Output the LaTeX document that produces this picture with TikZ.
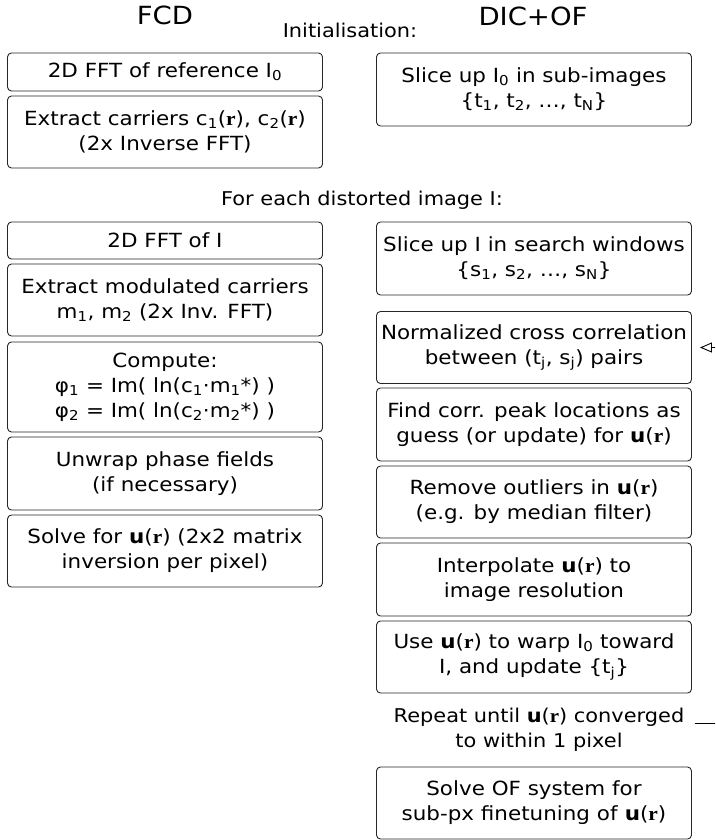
\documentclass[tikz,border=0pt]{standalone}
\usepackage{fontspec}
\setmainfont{DejaVu Sans}[FakeStretch=1.1]
\newfontfamily\rmbold{Liberation Serif}[FakeStretch=1.1]
\usetikzlibrary{arrows.meta}
% bold vector symbols
\newcommand{\vr}{\textbf{\rmbold r}}
\newcommand{\vu}{\textbf{u}}
\newcommand{\ur}{\vu(\vr)}
\newcommand{\sbs}[1]{\textsubscript{#1}}
\begin{document}
\begin{tikzpicture}[x=1pt,y=-1pt,
  stepbox/.style={draw=black!85, line width=0.9pt, rounded corners=4pt,
    minimum width=315pt, align=center, inner sep=0pt,
    font=\fontsize{19.5}{25}\selectfont},
  heading/.style={font=\fontsize{25}{30}\selectfont, inner sep=0pt, anchor=base},
  label/.style={font=\fontsize{19}{25}\selectfont, inner sep=0pt, anchor=base},
  loop/.style={line width=0.9pt, -{Triangle[open,length=12pt,width=10pt]}}]
\useasboundingbox (0,0) rectangle (715,840);
\clip (0,0) rectangle (715,840);

% column headings
\node[heading] (fcd) at (165,25) {FCD};
\node[heading] (dic) at (533,26) {DIC+OF};
\node[label] (init) at (350,38) {Initialisation:};
\node[label] (each) at (362,205) {For each distorted image I:};

% FCD column
\node[stepbox, minimum height=38pt] (l1) at (165,72) {2D FFT of reference I\sbs{0}};
\node[stepbox, minimum height=72pt] (l2) at (165,132) {Extract carriers c\sbs{1}(\vr), c\sbs{2}(\vr)\\(2x Inverse FFT)};
\node[stepbox, minimum height=37pt] (l3) at (165,240.5) {2D FFT of I};
\node[stepbox, minimum height=72pt] (l4) at (165,300) {Extract modulated carriers\\m\sbs{1}, m\sbs{2} (2x Inv. FFT)};
\node[stepbox, minimum height=90pt] (l5) at (165,387) {Compute:\\φ\sbs{1} = Im( ln(c\sbs{1}·m\sbs{1}*) )\\φ\sbs{2} = Im( ln(c\sbs{2}·m\sbs{2}*) )};
\node[stepbox, minimum height=73pt] (l6) at (165,473.5) {Unwrap phase fields\\(if necessary)};
\node[stepbox, minimum height=72pt] (l7) at (165,551) {Solve for \ur{} (2x2 matrix\\inversion per pixel)};

% DIC+OF column
\node[stepbox, minimum height=73pt] (r1) at (534,89.5) {Slice up I\sbs{0} in sub-images\\\{t\sbs{1}, t\sbs{2}, …, t\sbs{N}\}};
\node[stepbox, minimum height=73pt] (r2) at (534,258.5) {Slice up I in search windows\\\{s\sbs{1}, s\sbs{2}, …, s\sbs{N}\}};
\node[stepbox, minimum height=72pt] (r3) at (534,347.5) {Normalized cross correlation\\between (t\sbs{j}, s\sbs{j}) pairs};
\node[stepbox, minimum height=73pt] (r4) at (534,424.5) {Find corr. peak locations as\\guess (or update) for \ur};
\node[stepbox, minimum height=72pt] (r5) at (534,502) {Remove outliers in \ur\\(e.g. by median filter)};
\node[stepbox, minimum height=73pt] (r6) at (534,579.5) {Interpolate \ur{} to\\image resolution};
\node[stepbox, minimum height=72pt] (r7) at (534,657) {Use \ur{} to warp I\sbs{0} toward\\I, and update \{t\sbs{j}\}};
\node[label, anchor=center, align=center, inner xsep=10pt] (rep) at (539,729.5) {Repeat until \ur{} converged\\to within 1 pixel};
\node[stepbox, minimum height=72pt] (r8) at (534,803) {Solve OF system for\\sub-px finetuning of \ur};

% iteration loop back to the correlation step (its far side runs past the edge)
\coordinate (back) at ([xshift=8pt]r3.east);
\coordinate (out) at ([yshift=6pt]rep.east);
\draw[loop] (out) -- ++(80pt,0) |- (back);
\end{tikzpicture}
\end{document}
